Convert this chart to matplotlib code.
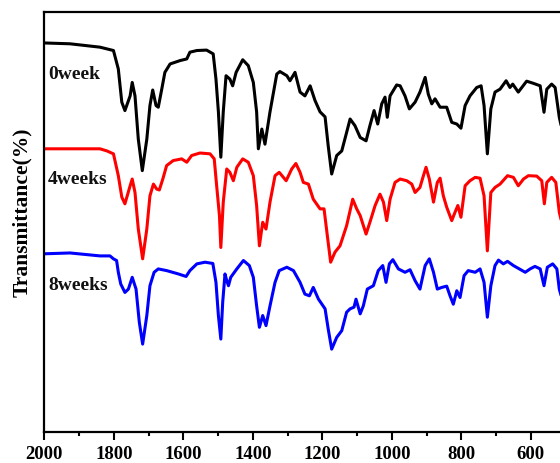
import matplotlib
matplotlib.use("Agg")
import matplotlib.pyplot as plt
from matplotlib.ticker import MultipleLocator

# ---- data (transmittance in arbitrary % units) ----
wn_0w = [2000, 1926, 1840, 1801, 1787, 1777, 1768, 1753, 1747, 1739, 1729.5, 1718, 1705, 1696, 1688,
         1678.5, 1672, 1662, 1653, 1638, 1609.5, 1590, 1581, 1561, 1533, 1514, 1506, 1499, 1492, 1485,
         1477, 1466, 1458, 1448, 1429, 1413, 1398.5, 1389, 1384, 1374, 1365, 1350.5, 1331, 1322, 1302,
         1293, 1278.5, 1264, 1250, 1235, 1221, 1206.5, 1192, 1183, 1173, 1158.5, 1144, 1130, 1120, 1106,
         1091, 1074, 1063, 1051, 1040.5, 1029, 1019.5, 1013, 1005, 986, 976, 962, 949.5, 933, 919, 904,
         895, 885, 875.6, 861, 842, 827.5, 813, 801, 789, 775, 755.6, 743, 734.5, 725, 715, 703, 688.5,
         671, 660, 652, 636, 612, 593, 573, 562, 554, 540, 530, 518, 510]
t_0w = [92.7, 92.5, 91.7, 90.9, 86.5, 78.6, 76.6, 80.1, 83.3, 80.1, 69.8, 62.3, 69.8, 77.8, 81.5,
        77.8, 77.4, 81.7, 85.7, 87.7, 88.5, 88.9, 90.5, 90.9, 91.0, 90.1, 84.1, 76.3, 65.5, 76.3,
        84.9, 84.1, 82.5, 85.7, 88.7, 87.3, 83.3, 76.3, 67.5, 72.2, 68.6, 76.3, 85.3, 85.9, 84.9,
        83.7, 85.7, 81.0, 80.1, 82.5, 79.0, 76.3, 75.1, 68.2, 61.5, 65.9, 67.0, 71.4, 74.6, 73.0,
        70.2, 69.4, 73.0, 76.6, 73.4, 78.2, 79.8, 75.0, 80.1, 82.7, 82.5, 80.1, 77.0, 78.6, 81.0, 84.5,
        80.5, 78.2, 79.4, 77.4, 77.4, 73.8, 73.4, 72.4, 77.8, 80.1, 82.1, 82.5, 77.8, 66.3, 77.0, 81.0, 81.7,
        83.7, 82.1, 82.9, 81.0, 83.6, 83.1, 82.5, 76.2, 81.7, 82.9, 82.1, 75.0, 72.0]

wn_4w = [2000, 1926, 1840, 1820, 1801, 1787, 1777, 1768, 1753, 1747, 1739, 1729.5, 1717, 1705, 1696,
         1686, 1676.5, 1669, 1659, 1648, 1629, 1604.5, 1590, 1576, 1552, 1523, 1511, 1504, 1496, 1492,
         1485, 1475, 1466, 1456, 1446, 1429, 1413, 1398.5, 1389, 1381, 1371.5, 1362, 1350.5, 1336, 1324,
         1304, 1288, 1276, 1264, 1254.6, 1240, 1226, 1206.5, 1195, 1185.5, 1176, 1163.4, 1149, 1130,
         1112.5, 1101, 1091, 1074, 1063, 1048, 1034, 1024, 1014.6, 1005, 990.7, 976, 957, 942.6, 933,
         919, 909, 901.5, 892, 880, 869, 861, 851.7, 842, 827.5, 818, 810, 801, 789, 775, 760, 746,
         734.5, 725, 715, 703, 688.5, 667, 650, 636, 621, 607, 583, 568.5, 561, 554, 540, 528, 518, 510]
t_4w = [67.5, 67.5, 67.5, 67.0, 66.3, 61.1, 56.0, 54.4, 58.7, 60.3, 57.1, 48.4, 41.3, 48.4, 56.3,
        59.1, 57.9, 57.7, 60.3, 63.5, 64.7, 65.1, 64.3, 65.9, 66.5, 66.3, 65.1, 58.7, 51.6, 44.0,
        54.8, 62.7, 61.9, 59.9, 63.1, 65.1, 64.3, 61.1, 54.0, 44.4, 50.0, 48.4, 54.8, 61.1, 61.9,
        59.9, 62.7, 64.0, 61.9, 59.5, 59.1, 55.5, 53.2, 53.2, 46.8, 40.5, 42.9, 44.4, 49.2,
        55.5, 53.2, 51.6, 47.2, 50.0, 54.0, 56.7, 54.8, 50.4, 55.5, 59.5, 60.3, 59.9, 59.1, 57.1,
        58.3, 61.1, 63.1, 60.3, 54.8, 59.5, 60.5, 56.3, 53.6, 50.4, 52.4, 54.0, 51.2, 58.7, 59.9, 60.7, 60.5,
        56.3, 43.2, 57.1, 58.3, 59.1, 61.1, 60.7, 58.7, 60.3, 61.1, 61.0, 59.9, 54.4, 59.5, 60.7, 59.5, 52.4, 49.6]

wn_8w = [2000, 1926, 1840, 1811, 1801, 1792, 1787, 1780, 1768, 1758, 1747, 1736, 1726.6, 1717, 1705,
         1696, 1684, 1672, 1648, 1614, 1592, 1581, 1561, 1537.5, 1515, 1506, 1499, 1492, 1486.6, 1480,
         1475, 1470, 1463.5, 1446, 1427, 1410, 1398.5, 1389, 1381, 1371.5, 1362, 1350.5, 1336, 1324,
         1302, 1283, 1264, 1250, 1237, 1226, 1211, 1192, 1183, 1173, 1158.5, 1144, 1130, 1120, 1108.7,
         1103, 1091, 1082, 1070.4, 1053, 1039, 1026, 1016.6, 1007, 997, 981, 962, 947.5, 933, 919, 904,
         892, 880, 869, 856, 842, 832.4, 823, 813, 803.6, 792, 780, 760, 746, 734.5, 725, 715, 703, 693,
         679, 667, 650, 633, 616, 602, 588, 573, 562, 552.4, 537, 525, 518, 510]
t_8w = [42.5, 42.7, 42.0, 42.0, 41.3, 40.9, 38.1, 35.3, 33.3, 34.1, 36.9, 34.1, 26.2, 21.0, 27.8,
        34.9, 38.1, 38.9, 38.5, 37.7, 37.1, 38.5, 40.1, 40.5, 40.2, 35.7, 27.8, 22.2, 31.0, 37.7,
        36.1, 34.9, 36.9, 38.9, 40.9, 39.7, 36.9, 30.1, 25.0, 27.8, 25.4, 30.1, 35.7, 38.5,
        39.3, 38.5, 35.7, 32.9, 32.5, 34.5, 31.7, 29.4, 24.6, 19.8, 22.6, 24.2, 28.6, 29.4, 29.8,
        31.7, 28.2, 30.1, 34.1, 34.9, 38.5, 39.7, 35.7, 40.1, 41.1, 38.9, 38.1, 38.7, 36.1, 34.1, 39.7,
        41.3, 38.1, 34.1, 34.5, 34.8, 32.5, 30.5, 33.7, 32.1, 37.3, 38.5, 38.1, 38.9, 35.7, 27.4, 34.9, 39.7, 41.0,
        40.1, 40.7, 39.7, 38.9, 38.1, 38.9, 39.5, 38.9, 34.9, 39.3, 40.1, 38.9, 34.1, 31.7]

series_labels = ["0week", "4weeks", "8weeks"]
series_colors = ["black", "red", "blue"]
label_pos_wn = 1989
label_pos_t = [85.5, 60.5, 35.1]
x_ticks = [2000, 1800, 1600, 1400, 1200, 1000, 800, 600]

# ---- figure ----
W, H = 560, 464
fig = plt.figure(figsize=(W / 100, H / 100), dpi=100)
left_px, bottom_px, top_px = 44.3, 433.3, 13.3
px_per_unit = 0.3475
xmin, xmax = 2000, 400
width_px = (xmin - xmax) * px_per_unit
ax = fig.add_axes([left_px / W, (H - bottom_px) / H, width_px / W, (bottom_px - top_px) / H])

serif = ["Liberation Serif", "DejaVu Serif"]
for wn, t, c in zip([wn_0w, wn_4w, wn_8w], [t_0w, t_4w, t_8w], series_colors):
    ax.plot(wn, t, color=c, lw=2.2, solid_joinstyle="round", solid_capstyle="round")

for lab, ty in zip(series_labels, label_pos_t):
    ax.text(label_pos_wn, ty, lab, ha="left", va="center", family=serif,
            fontweight="bold", fontsize=14, color="#111111")

ax.set_xlim(xmin, xmax)
ax.set_ylim(0, 100)
ax.set_xticks(x_ticks)
ax.xaxis.set_minor_locator(MultipleLocator(100))
ax.set_yticks([])
for lbl in ax.get_xticklabels():
    lbl.set_fontfamily(serif)
    lbl.set_fontweight("bold")
    lbl.set_fontsize(13.5)
ax.tick_params(axis="x", which="major", direction="out", length=6, width=1.5, pad=3)
ax.tick_params(axis="x", which="minor", direction="out", length=3, width=1.5)
for s in ax.spines.values():
    s.set_linewidth(1.6)

fig.text(22 / W, 1 - 212 / H, "Transmittance(%)", rotation=90, ha="center", va="center",
         family=serif, fontweight="bold", fontsize=15.5)

fig.savefig("out.png", dpi=100)
